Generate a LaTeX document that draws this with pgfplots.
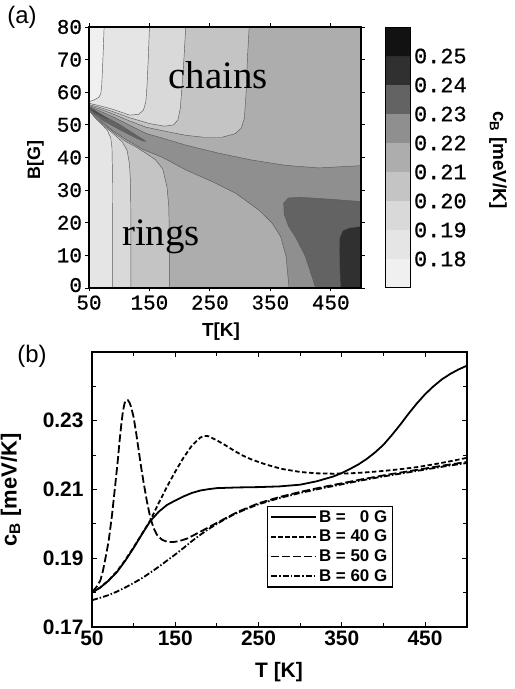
\documentclass[border=0pt]{standalone}
\usepackage{fontspec}
\setmainfont{Liberation Sans}
\newfontfamily\monofont[FakeBold=0.6]{Liberation Mono}
\newfontfamily\seriffont{Liberation Serif}
\usepackage{pgfplots}
\pgfplotsset{compat=1.18}
\definecolor{g0}{gray}{0.94}
\definecolor{g1}{gray}{0.90}
\definecolor{g2}{gray}{0.85}
\definecolor{g3}{gray}{0.77}
\definecolor{g4}{gray}{0.68}
\definecolor{g5}{gray}{0.56}
\definecolor{g6}{gray}{0.39}
\definecolor{g7}{gray}{0.19}
\definecolor{g8}{gray}{0.07}
\definecolor{cl}{gray}{0.35}
\begin{document}
\begin{tikzpicture}
\useasboundingbox (0,0) rectangle (515bp,689bp);
%================ panel (a) =================
\begin{axis}[at={(89bp,401bp)}, anchor=south west, scale only axis,
  width=272bp, height=261bp,
  xmin=50, xmax=500, ymin=0, ymax=80,
  xtick={50,150,250,350,450}, xticklabels={50,150,250,350,450},
  ytick={0,10,20,30,40,50,60,70,80}, yticklabels={\raisebox{6bp}{0},10,20,30,40,50,60,70,80},
  tick align=outside, major tick length=3.5bp,
  tick style={line width=0.9bp, black},
  axis line style={line width=1.3bp},
  ticklabel style={font=\monofont\fontsize{21}{21}\selectfont},
  xticklabel style={yshift=-0.5bp},
  axis on top,
  every axis plot/.append style={no markers},
]
\addplot[fill=g0, draw=none] coordinates {(50,0)(500,0)(500,80)(50,80)(50,0)};
% c > 0.18
\addplot[fill=g1, draw=cl, line width=0.45bp] coordinates {(50,0)(500,0)(500,80)(75,80)(73,70)(71,62)(69.5,59.5)(66,58.4)(58,57.6)(50,57.1)(50,0)};
% c > 0.19
\addplot[fill=g2, draw=cl, line width=0.45bp] coordinates {(89,0)(500,0)(500,80)(150,80)(148,70)(146,62)(144,57)(140,54.5)(132,53.2)(117,53)(89,54.8)(67,55.9)(50,56.6)(50,54.4)(60,52.2)(70,50.4)(80,48.4)(86,46)(88,43)(88.8,35)(89,20)(89,0)};
% c > 0.20
\addplot[fill=g3, draw=cl, line width=0.45bp] coordinates {(119.4,0)(500,0)(500,80)(210,80)(207,70)(204,62)(201,55)(197,51.5)(190,50)(175,49.6)(150,50.4)(117,52.2)(89,54.1)(67,55.4)(50,56.2)(50,54.6)(62,51.8)(78,49.2)(94,46.7)(105,44.8)(113,42.2)(117,38)(118.8,32)(119.3,20)(119.4,0)};
% c > 0.21
\addplot[fill=g4, draw=cl, line width=0.45bp] coordinates {(183,0)(500,0)(500,80)(315,80)(312,70)(310,60)(307,52)(302,49)(292,47.3)(270,46.2)(240,46.2)(210,46.8)(172,48.2)(144,49.3)(117,51.2)(89,53.4)(67,54.9)(50,55.9)(50,54.8)(62,52.1)(78,49.6)(94,47.2)(110,45)(128,43.2)(145,41.2)(160,39.3)(172,36.5)(179,31)(182,25)(183,15)(183,0)};
% c > 0.22
\addplot[fill=g5, draw=cl, line width=0.45bp] coordinates {(381,0)(500,0)(500,37.5)(430,36.8)(375,37.6)(320,39.2)(265,41.3)(210,43.8)(172,45.9)(144,47.4)(117,49.9)(89,52.5)(67,54.3)(50,55.6)(50,55.1)(62,52.5)(84,49.0)(111,45.5)(139,42.5)(172,40.0)(210,36.2)(254,32.6)(293,29)(331,23.9)(353,19.9)(367,15.8)(376,9.7)(381,0)};
% c > 0.23
\addplot[fill=g6, draw=cl, line width=0.45bp] coordinates {(500,0)(500,26.5)(450,27.2)(400,27.8)(380,27.6)(372,26)(373,22.5)(380,19)(392,15.5)(408,9.7)(418,4)(425,0)(500,0)};
\addplot[fill=g6, draw=cl, line width=0.45bp] coordinates {(50,55.45)(60,54.4)(72.6,52.9)(100,50.2)(127.7,46.9)(144,45.0)(140,45.0)(127.7,46.0)(100,48.6)(72.6,51.4)(60,53.3)(50,55.25)(50,55.45)};
% c > 0.24
\addplot[fill=g7, draw=cl, line width=0.45bp] coordinates {(500,0)(500,18.9)(480,18.4)(470,17.6)(465,15.5)(464,12)(465,6)(466,0)(500,0)};
\addplot[fill=g7, draw=cl, line width=0.45bp] coordinates {(50,55.4)(58,54.45)(70,53.1)(82,51.9)(78,52.0)(68,52.95)(58,54.0)(50,55.3)(50,55.4)};
\node[font=\seriffont\fontsize{39}{39}\selectfont, anchor=base] at (axis cs:264,61) {chains};
\node[font=\seriffont\fontsize{39}{39}\selectfont, anchor=base] at (axis cs:169,13) {rings};
\end{axis}
%================ colorbar =================
\begin{axis}[at={(385bp,401bp)}, anchor=south west, scale only axis,
  width=25.5bp, height=261bp,
  xmin=0, xmax=1, ymin=0.17, ymax=0.26, scaled y ticks=false,
  xtick=\empty,
  ytick={0.18,0.19,0.20,0.21,0.22,0.23,0.24,0.25},
  yticklabels={0.18,0.19,0.20,0.21,0.22,0.23,0.24,0.25},
  yticklabel pos=right, major tick length=0pt,
  axis line style={line width=1bp},
  ticklabel style={font=\monofont\fontsize{22}{22}\selectfont},
  axis on top,
  every axis plot/.append style={no markers},
]
\addplot[fill=g0, draw=none] coordinates {(0,0.17)(1,0.17)(1,0.18)(0,0.18)(0,0.17)};
\addplot[fill=g1, draw=none] coordinates {(0,0.18)(1,0.18)(1,0.19)(0,0.19)(0,0.18)};
\addplot[fill=g2, draw=none] coordinates {(0,0.19)(1,0.19)(1,0.20)(0,0.20)(0,0.19)};
\addplot[fill=g3, draw=none] coordinates {(0,0.20)(1,0.20)(1,0.21)(0,0.21)(0,0.20)};
\addplot[fill=g4, draw=none] coordinates {(0,0.21)(1,0.21)(1,0.22)(0,0.22)(0,0.21)};
\addplot[fill=g5, draw=none] coordinates {(0,0.22)(1,0.22)(1,0.23)(0,0.23)(0,0.22)};
\addplot[fill=g6, draw=none] coordinates {(0,0.23)(1,0.23)(1,0.24)(0,0.24)(0,0.23)};
\addplot[fill=g7, draw=none] coordinates {(0,0.24)(1,0.24)(1,0.25)(0,0.25)(0,0.24)};
\addplot[fill=g8, draw=none] coordinates {(0,0.25)(1,0.25)(1,0.26)(0,0.26)(0,0.25)};
\end{axis}
%================ panel (b) =================
\begin{axis}[at={(92bp,62bp)}, anchor=south west, scale only axis,
  width=374.7bp, height=275bp,
  xmin=50, xmax=500, ymin=0.17, ymax=0.25, scaled y ticks=false,
  xtick={50,150,250,350,450}, xticklabels={50,150,250,350,450},
  minor xtick={100,200,300,400},
  ytick={0.17,0.19,0.21,0.23}, yticklabels={0.17,0.19,0.21,0.23},
  minor ytick={0.18,0.20,0.22,0.24},
  tick align=inside, major tick length=5bp, minor tick length=4bp,
  tick style={line width=1bp, black},
  axis line style={line width=1.9bp},
  ticklabel style={font=\bfseries\fontsize{21}{21}\selectfont},
  yticklabel style={xshift=-5bp},
  legend style={at={(0.466,0.441)}, anchor=north west, draw=black, line width=1.2bp,
    font=\bfseries\fontsize{17}{18}\selectfont, inner xsep=3bp, inner ysep=2bp,
    row sep=2.5bp, cells={anchor=west}},
  legend image code/.code={\draw[#1] (0bp,0bp) -- (45bp,0bp);},
  every axis plot/.append style={no markers, line width=1.8bp, black},
]
\addplot[solid] coordinates {(50,0.1800)(60,0.1815)(70,0.1835)(80,0.1860)(90,0.1893)(100,0.1930)(110,0.1970)(120,0.2008)(130,0.2035)(140,0.2055)(150,0.2068)(160,0.2080)(170,0.2090)(180,0.2097)(190,0.2101)(200,0.2104)(225,0.2106)(250,0.2107)(275,0.2109)(300,0.2114)(320,0.2124)(340,0.2138)(350,0.2148)(360,0.2160)(370,0.2173)(380,0.2189)(390,0.2208)(400,0.2230)(410,0.2258)(420,0.2288)(430,0.2320)(440,0.2350)(450,0.2377)(460,0.2400)(470,0.2420)(480,0.2436)(490,0.2449)(500,0.2460)};
\addlegendentry{B = \phantom{4}0 G}
\addplot[dash pattern=on 4.5bp off 2.5bp] coordinates {(50,0.1800)(60,0.1815)(70,0.1836)(80,0.1862)(90,0.1895)(100,0.1932)(110,0.1971)(120,0.2010)(130,0.2060)(140,0.2108)(150,0.2152)(160,0.2193)(170,0.2228)(180,0.2251)(185,0.2256)(190,0.2255)(200,0.2243)(210,0.2229)(220,0.2214)(230,0.2200)(240,0.2189)(250,0.2180)(260,0.2172)(270,0.2165)(280,0.2159)(300,0.2151)(320,0.2147)(340,0.2146)(360,0.2147)(380,0.2150)(400,0.2154)(420,0.2159)(440,0.2165)(460,0.2173)(480,0.2182)(500,0.2192)};
\addlegendentry{B = 40 G}
\addplot[dash pattern=on 8bp off 3bp] coordinates {(50,0.1802)(55,0.1815)(60,0.1835)(63,0.1862)(66,0.1898)(70,0.1950)(74,0.2025)(78,0.2115)(81,0.2185)(83,0.2238)(85,0.2285)(87,0.2325)(89,0.2350)(91,0.2360)(93,0.2360)(95,0.2353)(97,0.2340)(100,0.2310)(103,0.2265)(106,0.2215)(109,0.2165)(112,0.2120)(116,0.2065)(120,0.2018)(124,0.1988)(128,0.1968)(134,0.1954)(140,0.1948)(147,0.1947)(155,0.1950)(165,0.1958)(180,0.1977)(200,0.2003)(225,0.2035)(250,0.2060)(275,0.2078)(300,0.2093)(325,0.2106)(350,0.2118)(375,0.2130)(400,0.2141)(425,0.2151)(450,0.2161)(475,0.2171)(500,0.2180)};
\addlegendentry{B = 50 G}
\addplot[dash pattern=on 6bp off 2bp on 1.5bp off 2bp] coordinates {(50,0.1778)(60,0.1785)(70,0.1793)(80,0.1803)(90,0.1815)(100,0.1828)(110,0.1842)(120,0.1858)(130,0.1875)(140,0.1893)(150,0.1911)(160,0.1930)(170,0.1950)(180,0.1968)(190,0.1985)(200,0.2000)(210,0.2014)(220,0.2027)(235,0.2043)(250,0.2057)(275,0.2075)(300,0.2090)(325,0.2103)(350,0.2115)(375,0.2127)(400,0.2138)(425,0.2148)(450,0.2158)(475,0.2168)(500,0.2177)};
\addlegendentry{B = 60 G}
\end{axis}
%================ labels =================
\node[font=\fontsize{24}{24}\selectfont] at (22bp,672bp) {(a)};
\node[font=\fontsize{24}{24}\selectfont] at (32bp,333bp) {(b)};
\node[font=\bfseries\fontsize{19}{19}\selectfont] at (221bp,357bp) {T[K]};
\node[font=\bfseries\fontsize{18}{18}\selectfont, rotate=90] at (35.5bp,529bp) {B[G]};
\node[font=\bfseries\fontsize{19}{19}\selectfont, rotate=-90] at (498bp,529bp) {c\textsubscript{B} [meV/K]};
\node[font=\bfseries\fontsize{21}{21}\selectfont] at (279bp,17.3bp) {T [K]};
\node[font=\bfseries\fontsize{22}{22}\selectfont, rotate=90] at (11bp,199bp) {c\textsubscript{B} [meV/K]};
\end{tikzpicture}
\end{document}
